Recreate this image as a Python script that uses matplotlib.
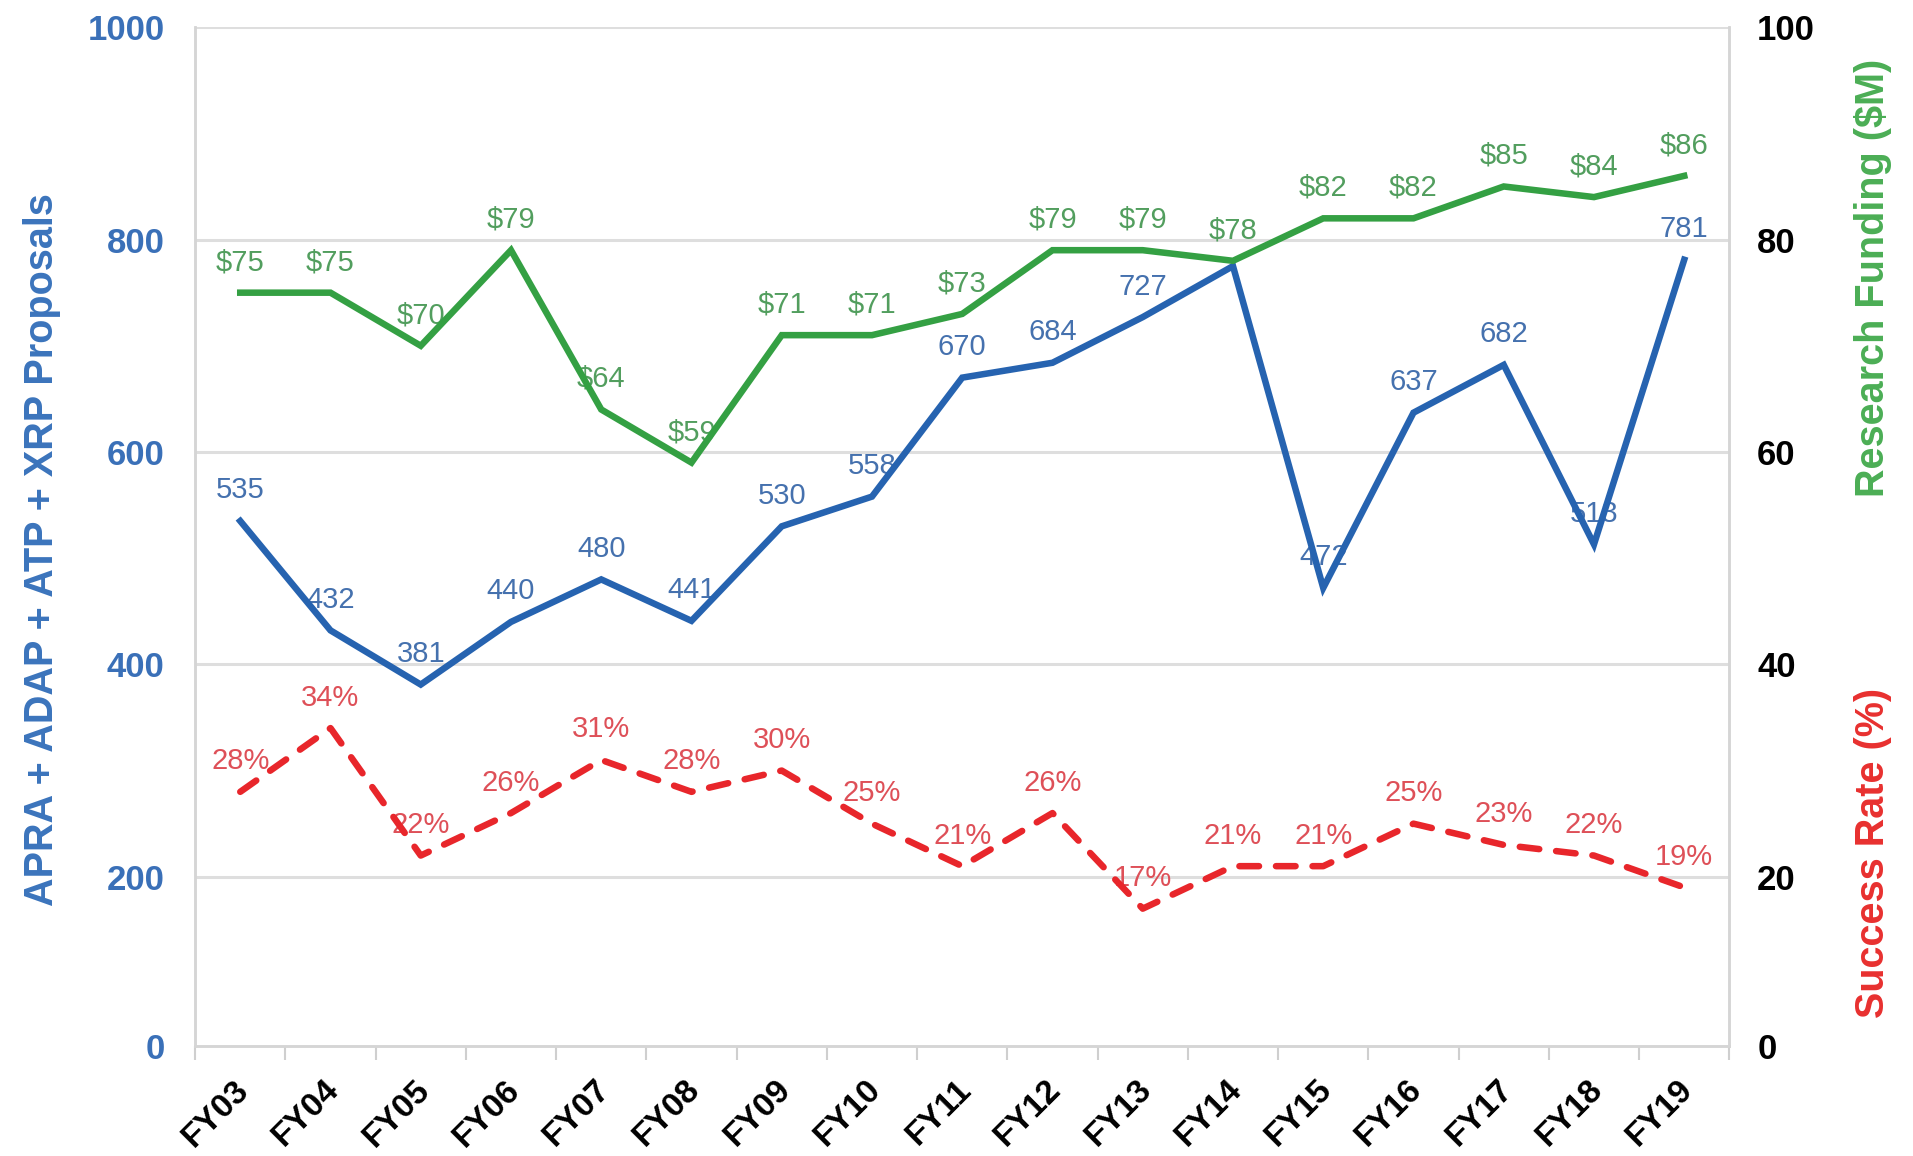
import numpy as np
import matplotlib
matplotlib.use("Agg")
import matplotlib.pyplot as plt
import matplotlib.transforms as mtransforms

plt.rcParams['font.family'] = ['Liberation Sans', 'DejaVu Sans']

years = ["FY03", "FY04", "FY05", "FY06", "FY07", "FY08", "FY09", "FY10", "FY11",
         "FY12", "FY13", "FY14", "FY15", "FY16", "FY17", "FY18", "FY19"]
proposals = [535, 432, 381, 440, 480, 441, 530, 558, 670, 684, 727, 775, 472, 637, 682, 513, 781]
funding = [75, 75, 70, 79, 64, 59, 71, 71, 73, 79, 79, 78, 82, 82, 85, 84, 86]
success = [28, 34, 22, 26, 31, 28, 30, 25, 21, 26, 17, 21, 21, 25, 23, 22, 19]
proposal_labels_hidden = ["FY14"]
left_ticks = [0, 200, 400, 600, 800, 1000]
right_ticks = [0, 20, 40, 60, 80, 100]

BLUE = '#2663B0'
BLUE_TXT = '#4571AE'
GREEN = '#34A043'
GREEN_TXT = '#529E5E'
RED = '#E8262B'
RED_TXT = '#DE5058'
GRID = '#DEDEDE'


def make_scale(brk, k):
    def fwd(v):
        v = np.asarray(v, dtype=float)
        return np.where(v >= brk, v, brk - (brk - v) * k)

    def inv(u):
        u = np.asarray(u, dtype=float)
        return np.where(u >= brk, u, brk - (brk - u) / k)
    return fwd, inv


fig = plt.figure(figsize=(19.13, 11.56), dpi=100)
ax = fig.add_axes([0.102, 0.095, 0.802, 0.8815])
ax2 = ax.twinx()

x = np.arange(len(years))

ax.set_yscale('function', functions=make_scale(150, 0.73))
ax2.set_yscale('function', functions=make_scale(15, 0.73))
ax.set_ylim(0, 1000)
ax2.set_ylim(0, 100)
ax.set_xlim(-0.5, len(years) - 0.5)

# gridlines
for t in left_ticks[1:]:
    ax.axhline(t, color=GRID, lw=2.2, zorder=0)

ax.plot(x, proposals, color=BLUE, lw=4.7, solid_joinstyle='miter', zorder=3)
ax2.plot(x, funding, color=GREEN, lw=4.7, solid_joinstyle='miter', zorder=3)
ax2.plot(x, success, color=RED, lw=4.7, ls=(0, (3.0, 2.6)),
         dash_capstyle='round', zorder=3)

for xi, v, yr in zip(x, proposals, years):
    if yr in proposal_labels_hidden:
        continue
    ax.annotate(f"{v}", (xi, v), xytext=(0, 22), textcoords='offset points',
                ha='center', va='center', fontsize=21, color=BLUE_TXT, zorder=1)
for xi, v in zip(x, funding):
    ax2.annotate(f"${v}", (xi, v), xytext=(0, 22), textcoords='offset points',
                 ha='center', va='center', fontsize=21, color=GREEN_TXT, zorder=1)
for xi, v in zip(x, success):
    ax2.annotate(f"{v}%", (xi, v), xytext=(0, 22), textcoords='offset points',
                 ha='center', va='center', fontsize=21, color=RED_TXT, zorder=1)

# y ticks
ax.set_yticks(left_ticks)
ax.set_yticklabels([str(t) for t in left_ticks], fontsize=25, fontweight='bold', color='#3A70B8')
ax.tick_params(axis='y', length=0, pad=22)
ax2.set_yticks(right_ticks)
ax2.set_yticklabels([str(t) for t in right_ticks], fontsize=25, fontweight='bold', color='black')
ax2.tick_params(axis='y', length=0, pad=20)

# x ticks
ax.set_xticks(x)
ax.set_xticklabels(years, fontsize=24, fontweight='bold', rotation=45,
                   ha='right', va='center', rotation_mode='anchor')
ax.set_xticks(np.arange(-0.5, len(years), 1), minor=True)
ax.tick_params(axis='x', which='major', length=0, pad=28)
ax.tick_params(axis='x', which='minor', length=10, width=1.5, color='#CFCFCF')
offset = mtransforms.ScaledTranslation(4 / 100, 0, fig.dpi_scale_trans)
for lab in ax.get_xticklabels():
    lab.set_transform(lab.get_transform() + offset)

for a in (ax, ax2):
    a.spines['top'].set_visible(False)
    for s in ('left', 'right', 'bottom'):
        a.spines[s].set_color('#D5D5D5')
        a.spines[s].set_linewidth(1.8)

fig.text(0.022, 0.525, "APRA + ADAP + ATP + XRP Proposals", rotation=90, ha='center',
         va='center', fontsize=28.5, fontweight='bold', color='#3B74BC')
fig.text(0.979, 0.76, "Research Funding ($M)", rotation=90, ha='center',
         va='center', fontsize=28.5, fontweight='bold', color='#4BAE55')
fig.text(0.979, 0.262, "Success Rate (%)", rotation=90, ha='center',
         va='center', fontsize=28.5, fontweight='bold', color='#E8302F')

fig.savefig("out.png", dpi=100, facecolor='white')
